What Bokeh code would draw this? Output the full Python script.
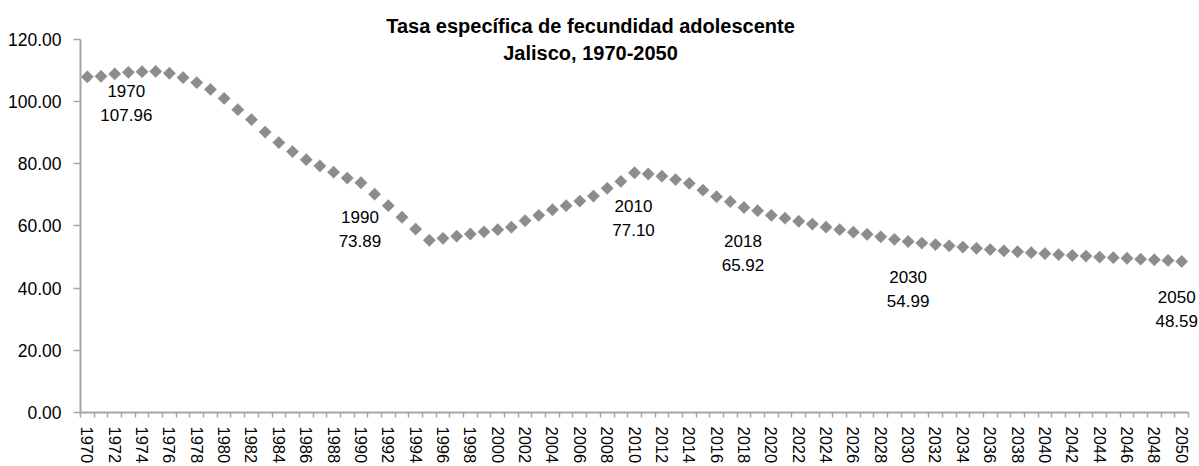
import math
from bokeh.plotting import figure
from bokeh.models import Range1d, FixedTicker, PrintfTickFormatter, Label, ColumnDataSource
from bokeh.core.properties import value
from bokeh.embed import file_html
from bokeh.resources import INLINE

FONT = "Liberation Sans"

years = list(range(1970, 2051))
rates = [
    107.96, 108.1, 108.9, 109.4, 109.6, 109.7, 109.1, 107.7, 106.1, 103.9,
    101.0, 97.4, 94.2, 90.2, 86.8, 83.9, 81.3, 79.3, 77.3, 75.4,
    73.89, 70.2, 66.5, 62.8, 59.0, 55.4, 56.0, 56.7, 57.4, 58.1,
    58.8, 59.6, 61.7, 63.4, 65.2, 66.5, 68.0, 69.6, 72.1, 74.3,
    77.10, 76.7, 76.0, 74.9, 73.7, 71.5, 69.4, 67.8, 65.92, 64.9,
    63.4, 62.5, 61.5, 60.6, 59.6, 58.8, 58.0, 57.3, 56.5, 55.7,
    54.99, 54.5, 54.0, 53.6, 53.2, 52.8, 52.4, 52.0, 51.7, 51.4,
    51.1, 50.8, 50.5, 50.3, 50.0, 49.8, 49.6, 49.3, 49.1, 48.9,
    48.59,
]
label_years = [1970, 1990, 2010, 2018, 2030, 2050]
y_ticks = [0, 20, 40, 60, 80, 100, 120]
x_tick_years = [y for y in years if y % 2 == 0]
title_lines = ["Tasa específica de fecundidad adolescente", "Jalisco, 1970-2050"]

x_lo, x_hi = years[0] - 0.5, years[-1] + 0.5
y_lo, y_hi = 0, 120

p = figure(width=1199, height=466, output_backend="svg", toolbar_location=None,
           x_range=Range1d(x_lo, x_hi + 0.80),
           y_range=Range1d(y_lo, 132.5),
           min_border_left=80, min_border_right=0, min_border_top=0, min_border_bottom=53)
p.outline_line_color = None
p.grid.visible = False
p.background_fill_color = "white"
p.border_fill_color = "white"

axis_col = "#a6a6a6"
# x axis
p.xaxis.bounds = (x_lo, x_hi)
p.xaxis.ticker = FixedTicker(ticks=x_tick_years,
                             minor_ticks=[y - 0.5 for y in years] + [x_hi])
p.xaxis.axis_line_color = axis_col
p.xaxis.axis_line_width = 2
p.xaxis.major_tick_line_color = None
p.xaxis.major_tick_out = 5
p.xaxis.major_tick_in = 0
p.xaxis.minor_tick_line_color = axis_col
p.xaxis.minor_tick_line_width = 1.5
p.xaxis.minor_tick_out = 5
p.xaxis.minor_tick_in = 0
p.xaxis.major_label_orientation = "vertical"
p.xaxis.major_label_standoff = 9
p.xaxis.major_label_text_font = FONT
p.xaxis.major_label_text_font_size = "16.5px"
p.xaxis.major_label_text_color = "#000000"

# y axis
p.yaxis.bounds = (y_lo, y_hi)
p.yaxis.ticker = FixedTicker(ticks=y_ticks, minor_ticks=[])
p.yaxis.formatter = PrintfTickFormatter(format="%.2f")
p.yaxis.axis_line_color = axis_col
p.yaxis.axis_line_width = 2
p.yaxis.major_tick_line_color = axis_col
p.yaxis.major_tick_line_width = 1.5
p.yaxis.major_tick_out = 7
p.yaxis.major_tick_in = 0
p.yaxis.minor_tick_line_color = None
p.yaxis.major_label_standoff = 12
p.yaxis.major_label_text_font = FONT
p.yaxis.major_label_text_font_size = "17.5px"
p.yaxis.major_label_text_color = "#000000"

src = ColumnDataSource(dict(x=years, y=rates))
p.scatter("x", "y", source=src, marker="square", size=8.7, angle=math.pi / 4,
          fill_color="#8c8c8c", line_color="#8c8c8c", line_width=0.5)

# data labels
lab_vals = [rates[years.index(y)] for y in label_years]
lab_text = [f"{y}\n{v:.2f}" for y, v in zip(label_years, lab_vals)]
x_off = [39, -1, -1, -1, 0, -5]
y_off = [27, 47, 46, 46, 48, 48]
lsrc = ColumnDataSource(dict(x=label_years, y=lab_vals, t=lab_text, xo=x_off, yo=y_off))
p.text("x", "y", text="t", source=lsrc, x_offset="xo", y_offset="yo",
       text_align="center", text_baseline="middle", text_font=value(FONT),
       text_font_size="17px", text_color="#000000", text_line_height=1.25)

for line, yy in zip(title_lines, [387, 360]):
    p.add_layout(Label(x=510, y=yy, x_units="screen", y_units="screen",
                       text=line, text_align="center", text_baseline="middle",
                       text_font=FONT, text_font_size="20px", text_font_style="bold",
                       text_color="#000000"))

open("out.html", "w").write(file_html(p, INLINE))
